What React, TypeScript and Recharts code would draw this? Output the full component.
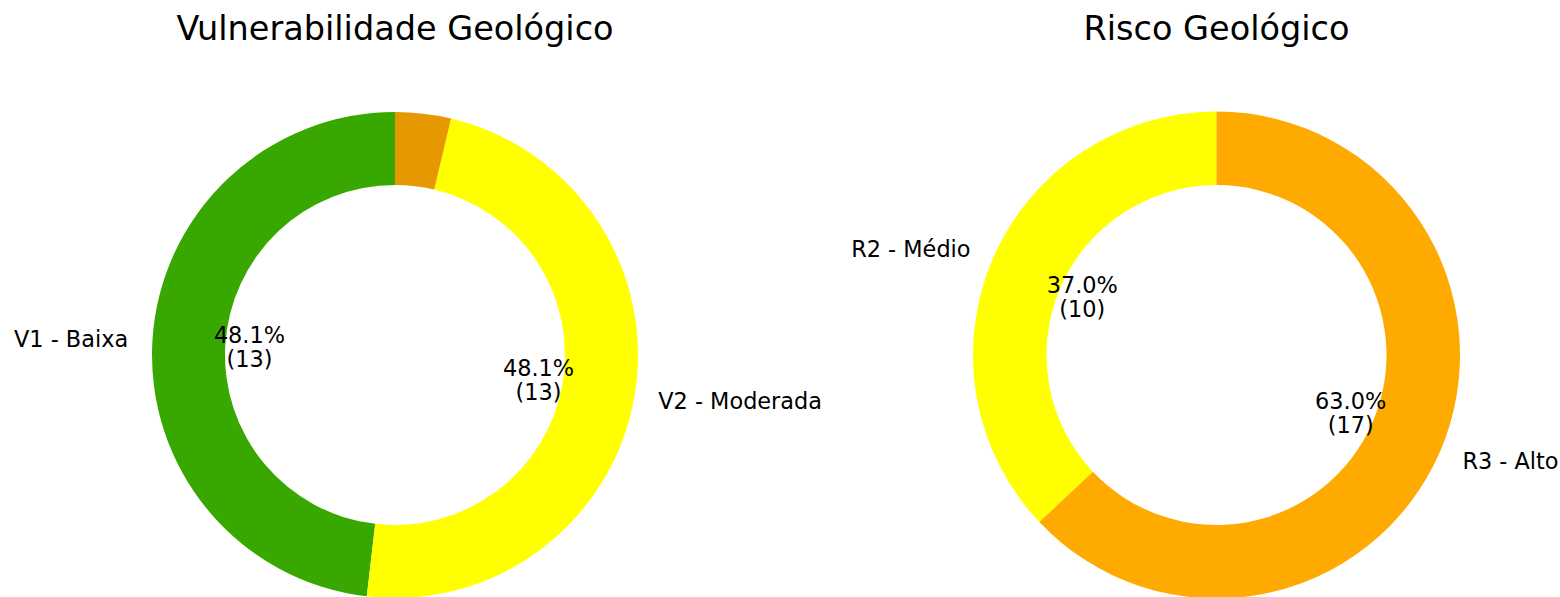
import React from "react";
import { PieChart, Pie, Cell } from "recharts";

const vulnTitle = "Vulnerabilidade Geológico";
const vulnCategories = ["V1 - Baixa", "V2 - Moderada", "V3 - Alta"];
const vulnValues = [13, 13, 1];
const vulnColors = ["#38a800", "#ffff00", "#e69800"];

const riskTitle = "Risco Geológico";
const riskCategories = ["R2 - Médio", "R3 - Alto"];
const riskValues = [10, 17];
const riskColors = ["#ffff00", "#ffaa00"];

const vulnData = vulnCategories.map((name, i) => ({ name, value: vulnValues[i] }));
const riskData = riskCategories.map((name, i) => ({ name, value: riskValues[i] }));

const FONT = "DejaVu Sans, sans-serif";
const RAD = Math.PI / 180;
const LABEL_SIZE = 22.4;

const renderLabel = (props: any) => {
  const { cx, cy, midAngle, outerRadius, percent, value, name } = props;
  if (percent < 0.05) return null;
  const cos = Math.cos(-midAngle * RAD);
  const sin = Math.sin(-midAngle * RAD);
  const lx = cx + outerRadius * 1.1 * cos;
  const ly = cy + outerRadius * 1.1 * sin;
  const px = cx + outerRadius * 0.6 * cos;
  const py = cy + outerRadius * 0.6 * sin;
  return (
    <g>
      <text
        x={lx}
        y={ly}
        textAnchor={cos < 0 ? "end" : "start"}
        dominantBaseline="central"
        fontSize={LABEL_SIZE}
        fontFamily={FONT}
        fill="#000"
      >
        {name}
      </text>
      <text x={px} y={py - 12} textAnchor="middle" dominantBaseline="central" fontSize={LABEL_SIZE} fontFamily={FONT} fill="#000">
        {(percent * 100).toFixed(1) + "%"}
      </text>
      <text x={px} y={py + 12} textAnchor="middle" dominantBaseline="central" fontSize={LABEL_SIZE} fontFamily={FONT} fill="#000">
        {"(" + value + ")"}
      </text>
    </g>
  );
};

export default function App() {
  return (
    <div style={{ position: "fixed", left: 0, top: 0, width: 1560, height: 597, background: "#fff" }}>
      <PieChart width={1560} height={597} margin={{ top: 0, right: 0, bottom: 0, left: 0 }}>
        <text x={395} y={40} textAnchor="middle" fontSize={33.5} fontFamily={FONT} fill="#000">
          {vulnTitle}
        </text>
        <text x={1216.5} y={40} textAnchor="middle" fontSize={33.5} fontFamily={FONT} fill="#000">
          {riskTitle}
        </text>
        <Pie
          data={vulnData}
          dataKey="value"
          nameKey="name"
          cx={395}
          cy={355}
          innerRadius={170}
          outerRadius={243}
          startAngle={90}
          endAngle={450}
          stroke="none"
          label={renderLabel}
          labelLine={false}
          isAnimationActive={false}
        >
          {vulnData.map((d, i) => (
            <Cell key={d.name} fill={vulnColors[i]} />
          ))}
        </Pie>
        <Pie
          data={riskData}
          dataKey="value"
          nameKey="name"
          cx={1216.5}
          cy={355}
          innerRadius={170}
          outerRadius={243.5}
          startAngle={90}
          endAngle={450}
          stroke="none"
          label={renderLabel}
          labelLine={false}
          isAnimationActive={false}
        >
          {riskData.map((d, i) => (
            <Cell key={d.name} fill={riskColors[i]} />
          ))}
        </Pie>
      </PieChart>
    </div>
  );
}
